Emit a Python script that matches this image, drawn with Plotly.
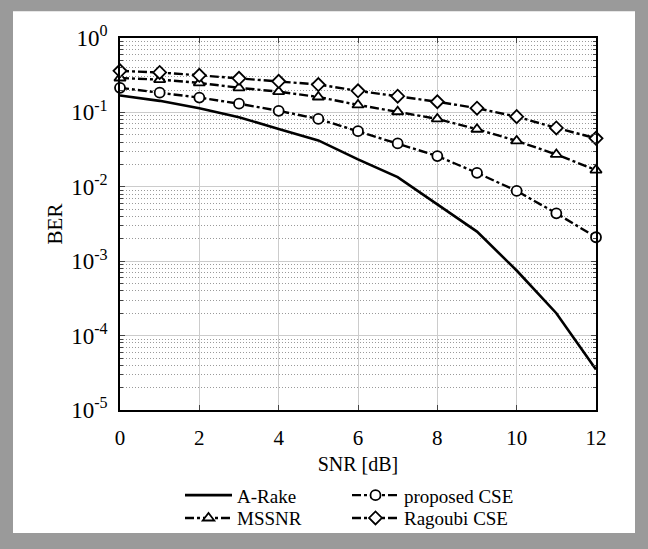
import plotly.graph_objects as go

snr = list(range(0, 13))
a_rake = [0.169, 0.143, 0.114, 0.086, 0.060, 0.042, 0.0234, 0.0135, 0.0058, 0.0025, 0.00075, 0.00020, 0.000035]
mssnr = [0.290, 0.276, 0.249, 0.214, 0.190, 0.161, 0.126, 0.102, 0.0818, 0.0594, 0.0414, 0.0272, 0.0168]
proposed = [0.214, 0.184, 0.158, 0.131, 0.105, 0.0817, 0.056, 0.0383, 0.0259, 0.0154, 0.0088, 0.0044, 0.0021]
ragoubi = [0.362, 0.344, 0.315, 0.287, 0.262, 0.237, 0.195, 0.165, 0.139, 0.114, 0.0877, 0.0618, 0.0449]

xticks = [0, 2, 4, 6, 8, 10, 12]
yticks = [1e-5, 1e-4, 1e-3, 1e-2, 1e-1, 1]
yticklabels = ["10<sup>-5</sup>", "10<sup>-4</sup>", "10<sup>-3</sup>", "10<sup>-2</sup>", "10<sup>-1</sup>", "10<sup>0</sup>"]

FONT = "Liberation Serif"
marker_line = dict(color="black", width=1.8)
fig = go.Figure()
fig.add_trace(go.Scatter(x=snr, y=a_rake, name="A-Rake", mode="lines",
                         line=dict(color="black", width=2.6), legend="legend",
                         cliponaxis=False))
fig.add_trace(go.Scatter(x=snr, y=proposed, name="proposed CSE", mode="lines+markers",
                         line=dict(color="black", width=2.4, dash="dashdot"),
                         marker=dict(symbol="circle", size=10, color="white", line=marker_line),
                         legend="legend2", cliponaxis=False))
fig.add_trace(go.Scatter(x=snr, y=mssnr, name="MSSNR", mode="lines+markers",
                         line=dict(color="black", width=2.4, dash="dashdot"),
                         marker=dict(symbol="triangle-up", size=10, color="white", line=marker_line),
                         legend="legend3", cliponaxis=False))
fig.add_trace(go.Scatter(x=snr, y=ragoubi, name="Ragoubi CSE", mode="lines+markers",
                         line=dict(color="black", width=2.4, dash="dashdot"),
                         marker=dict(symbol="diamond", size=10, color="white", line=marker_line),
                         legend="legend4", cliponaxis=False))

L, R, T, B = 120, 52, 38, 136
W, H = 648, 549
pw, ph = W - L - R, H - T - B

def px(x):
    return (x - L) / pw

def py(y):
    return (H - B - y) / ph

fig.add_shape(type="rect", xref="paper", yref="paper",
              x0=px(13), x1=px(635), y0=py(537), y1=py(11),
              fillcolor="white", line=dict(width=0), layer="below")

leg_common = dict(orientation="h", xanchor="left", yanchor="middle", itemwidth=47,
                  font=dict(family=FONT, size=19), bgcolor="rgba(0,0,0,0)",
                  tracegroupgap=0)
col1, col2 = 180, 347
row1, row2 = 499, 522

fig.update_layout(
    width=W, height=H,
    margin=dict(l=L, r=R, t=T, b=B),
    paper_bgcolor="#9a9a9a",
    plot_bgcolor="white",
    font=dict(family=FONT, size=19, color="black"),
    showlegend=True,
    legend=dict(x=px(col1), y=py(row1), **leg_common),
    legend2=dict(x=px(col2), y=py(row1), **leg_common),
    legend3=dict(x=px(col1), y=py(row2), **leg_common),
    legend4=dict(x=px(col2), y=py(row2), **leg_common),
    xaxis=dict(range=[0, 12], tickvals=xticks, ticks="inside", ticklen=5,
               showline=True, linecolor="black", linewidth=1.5, mirror="ticks",
               showgrid=True, gridcolor="#cccccc", gridwidth=1, zeroline=False,
               title=dict(text="SNR [dB]", standoff=8, font=dict(size=20)),
               tickfont=dict(size=21), ticklabelstandoff=8),
    yaxis=dict(type="log", range=[-5, 0], tickvals=yticks, ticktext=yticklabels,
               ticks="inside", ticklen=5,
               showline=True, linecolor="black", linewidth=1.5, mirror="ticks",
               showgrid=True, gridcolor="#cccccc", gridwidth=1, zeroline=False,
               title=dict(text="BER", standoff=3, font=dict(size=21)),
               tickfont=dict(size=23), ticklabelstandoff=6,
               minor=dict(ticks="inside", ticklen=3, showgrid=True,
                          gridcolor="#9a9a9a", griddash="1px,2px", gridwidth=1,
                          dtick="D1")),
)

fig.write_html("out.html", config={"displayModeBar": False},
               post_script="document.body.style.margin='0';document.body.style.background='#9a9a9a';")
